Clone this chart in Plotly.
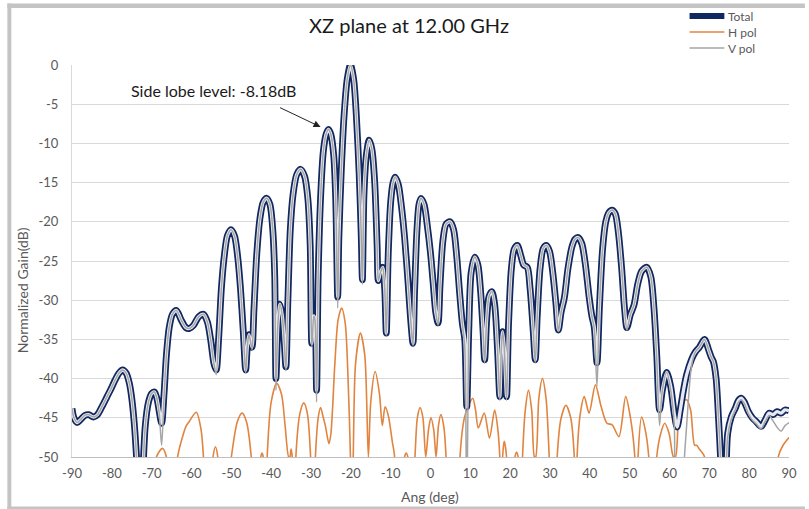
import plotly.graph_objects as go

# ---------------- data ----------------
ang = [-90.0, -89.5, -88.7, -87.8, -86.8, -85.8, -84.6, -83.6, -82.4, -81.2,
       -80.2, -79.2, -78.2, -77.3, -76.4, -75.6, -75.0, -74.4, -73.8, -73.0,
       -72.8, -72.2, -71.6, -70.8, -70.0, -69.3, -68.7, -68.1, -67.5, -66.9,
       -66.3, -65.6, -64.8, -63.8, -62.6, -61.4, -60.5, -59.5, -58.2, -57.0,
       -56.0, -55.2, -54.4, -53.8, -53.2, -52.5, -51.8, -51.0, -50.1, -49.2,
       -48.4, -47.7, -47.0, -46.4, -46.0, -45.6, -45.2, -44.8, -44.3, -43.6,
       -42.8, -42.0, -41.1, -40.3, -39.6, -39.1, -38.8, -38.3, -37.8, -37.2,
       -36.7, -36.3, -35.8, -35.2, -34.5, -33.6, -32.6, -31.6, -30.8, -30.2,
       -29.8, -29.3, -29.0, -28.6, -28.2, -27.6, -26.9, -26.2, -25.6, -25.0,
       -24.3, -23.8, -23.3, -23.0, -22.4, -21.7, -20.9, -20.1, -19.3, -18.6,
       -17.9, -17.4, -17.1, -16.7, -16.1, -15.4, -14.7, -14.0, -13.4, -13.1,
       -12.6, -12.0, -11.5, -11.1, -10.6, -10.0, -9.4, -8.9, -8.1, -7.3,
       -6.5, -5.6, -4.9, -4.4, -4.0, -3.4, -2.9, -2.4, -1.6, -0.8,
       0.0, 0.7, 1.3, 1.9, 2.4, 3.1, 3.9, 4.9, 5.8, 6.6,
       7.3, 8.0, 8.6, 9.1, 9.6, 10.2, 11.1, 11.9, 12.6, 13.2,
       13.6, 14.1, 14.7, 15.4, 16.1, 16.8, 17.4, 17.8, 18.1, 18.5,
       19.1, 19.6, 20.3, 21.0, 21.8, 22.6, 23.4, 24.3, 25.0, 25.8,
       26.3, 26.8, 27.5, 28.3, 29.1, 29.9, 30.7, 31.5, 32.1, 32.8,
       33.6, 34.5, 35.5, 36.3, 37.1, 38.0, 38.9, 39.8, 40.5, 41.1,
       41.8, 42.4, 43.2, 44.0, 44.8, 45.6, 46.4, 47.2, 48.0, 48.7,
       49.3, 50.2, 51.1, 52.0, 53.0, 54.3, 55.3, 56.1, 56.8, 57.5,
       58.2, 59.3, 60.3, 61.2, 61.9, 62.7, 63.5, 64.3, 65.5, 66.5,
       67.5, 68.8, 69.8, 70.5, 71.0, 71.7, 72.3, 72.8, 73.5, 74.2,
       74.6, 75.5, 76.5, 77.3, 78.0, 78.8, 79.8, 80.8, 81.8, 83.0,
       84.0, 85.0, 86.0, 87.0, 88.0, 89.0, 90.0]

total = [-43.8, -45.0, -45.6, -45.2, -44.7, -44.6, -44.9, -44.6, -43.5, -42.3,
         -41.3, -40.2, -39.3, -38.9, -39.3, -40.6, -42.5, -45.5, -50.0, -58.0,
         -60.0, -52.0, -46.0, -43.0, -41.9, -41.7, -42.5, -44.2, -45.7, -42.0,
         -37.0, -33.5, -31.8, -31.3, -32.5, -33.5, -33.6, -33.2, -32.1, -31.8,
         -32.8, -35.0, -38.0, -38.9, -35.0, -28.5, -24.5, -21.8, -21.0, -21.8,
         -24.5, -28.5, -34.0, -38.9, -36.0, -34.4, -35.2, -36.0, -31.0, -24.0,
         -19.5, -17.5, -17.0, -17.8, -21.0, -27.0, -40.0, -33.0, -30.5, -32.0,
         -35.5, -38.5, -30.0, -21.0, -16.5, -14.0, -13.3, -14.2, -17.0, -23.0,
         -35.5, -32.0, -32.5, -41.5, -27.0, -17.0, -11.0, -8.8, -8.2, -8.9,
         -11.5, -17.0, -29.6, -22.0, -13.5, -6.5, -1.8, 0.0, -1.8, -6.6,
         -14.0, -21.5, -27.4, -16.5, -11.5, -9.6, -10.8, -15.0, -23.0, -27.5,
         -26.5, -25.8, -28.5, -34.2, -24.0, -17.5, -15.0, -14.3, -15.2, -18.0,
         -22.0, -28.0, -33.0, -35.5, -29.0, -21.0, -17.8, -17.0, -17.8, -20.5,
         -24.0, -28.0, -31.5, -32.9, -28.0, -22.5, -20.3, -20.0, -21.0, -24.5,
         -29.0, -33.0, -35.0, -43.6, -34.0, -26.5, -24.5, -25.5, -29.0, -34.0,
         -37.6, -32.5, -29.5, -28.9, -30.5, -36.0, -42.3, -36.0, -34.0, -36.0,
         -42.3, -33.0, -26.0, -23.5, -23.0, -24.2, -25.5, -25.8, -28.5, -34.0,
         -37.6, -32.0, -26.0, -23.4, -23.0, -23.8, -26.5, -30.5, -33.8, -31.5,
         -29.7, -26.0, -23.2, -22.2, -22.0, -22.8, -25.5, -29.5, -32.0, -33.4,
         -38.0, -31.0, -23.5, -20.0, -18.8, -18.5, -19.0, -21.5, -26.0, -31.0,
         -33.5, -31.8, -30.6, -28.0, -26.3, -25.8, -27.0, -31.0, -37.0, -44.0,
         -41.5, -39.2, -41.0, -44.5, -46.2, -44.0, -41.5, -39.5, -37.6, -36.6,
         -36.0, -35.0, -36.3, -37.3, -37.8, -40.0, -45.0, -50.0, -60.0, -52.0,
         -47.0, -44.9, -43.8, -42.8, -42.5, -43.0, -44.2, -45.0, -45.5, -46.1,
         -45.3, -44.4, -44.6, -44.2, -44.4, -44.0, -44.1]

vpol = [-43.8, -45.0, -45.6, -45.2, -44.7, -44.6, -44.9, -44.6, -43.5, -42.3,
        -41.3, -40.2, -39.3, -38.9, -39.3, -40.6, -42.5, -45.5, -50.0, -58.0,
        -60.0, -52.0, -46.0, -43.0, -41.9, -41.7, -42.5, -44.5, -48.5, -42.5,
        -37.0, -33.5, -31.8, -31.3, -32.5, -33.5, -33.6, -33.2, -32.1, -31.8,
        -32.8, -35.0, -38.0, -39.5, -35.0, -28.5, -24.5, -21.8, -21.0, -21.8,
        -24.5, -28.5, -34.0, -39.3, -36.0, -34.4, -35.2, -36.3, -31.0, -24.0,
        -19.5, -17.5, -17.0, -17.8, -21.0, -27.0, -41.5, -33.0, -30.5, -32.0,
        -35.5, -39.0, -30.0, -21.0, -16.5, -14.0, -13.3, -14.2, -17.0, -23.0,
        -36.0, -32.0, -32.5, -43.0, -27.0, -17.0, -11.0, -8.8, -8.2, -8.9,
        -11.5, -17.0, -31.0, -22.0, -13.5, -6.5, -1.8, 0.0, -1.8, -6.6,
        -14.0, -21.5, -28.0, -16.5, -11.5, -9.6, -10.8, -15.0, -23.0, -27.5,
        -26.5, -25.8, -28.5, -34.5, -24.0, -17.5, -15.0, -14.3, -15.2, -18.0,
        -22.0, -28.0, -33.0, -35.8, -29.0, -21.0, -17.8, -17.0, -17.8, -20.5,
        -24.0, -28.0, -31.5, -33.2, -28.0, -22.5, -20.3, -20.0, -21.0, -24.5,
        -29.0, -33.0, -36.0, -60.0, -34.0, -26.5, -24.5, -25.5, -29.0, -34.0,
        -38.0, -32.5, -29.5, -28.9, -30.5, -36.0, -42.8, -36.0, -34.0, -36.0,
        -42.8, -33.0, -26.0, -23.5, -23.0, -24.2, -25.5, -25.8, -28.5, -34.0,
        -38.0, -32.0, -26.0, -23.4, -23.0, -23.8, -26.5, -30.5, -34.0, -31.5,
        -29.7, -26.0, -23.2, -22.2, -22.0, -22.8, -25.5, -29.5, -32.0, -33.6,
        -41.0, -31.0, -23.5, -20.0, -18.8, -18.5, -19.0, -21.5, -26.0, -31.0,
        -33.8, -31.8, -30.6, -28.0, -26.3, -25.8, -27.0, -31.0, -37.5, -46.0,
        -41.5, -39.2, -41.5, -46.0, -60.0, -60.0, -52.0, -46.0, -38.5, -36.6,
        -36.0, -35.0, -36.3, -37.3, -37.8, -40.0, -45.0, -50.0, -60.0, -52.0,
        -47.5, -45.2, -44.0, -43.0, -42.7, -43.2, -44.5, -45.3, -45.8, -46.4,
        -45.5, -44.7, -45.4, -46.2, -46.7, -46.0, -45.6]

ang_h = [-90.0, -70.0, -68.8, -67.3, -66.3, -65.0, -63.5, -62.0, -61.3, -60.6,
         -58.8, -57.6, -57.0, -56.0, -54.6, -54.0, -53.4, -52.5, -50.0, -48.5,
         -47.3, -46.2, -45.0, -44.0, -42.6, -42.3, -42.0, -41.5, -41.0, -40.0,
         -38.6, -37.4, -36.5, -35.6, -35.3, -35.0, -34.7, -34.2, -33.8, -32.8,
         -31.8, -30.9, -30.1, -29.5, -28.9, -28.2, -27.6, -26.9, -26.4, -25.5,
         -25.0, -24.0, -23.2, -22.3, -21.4, -20.7, -20.1, -19.8, -19.4, -18.8,
         -17.6, -16.5, -15.6, -15.0, -13.9, -12.8, -12.1, -11.4, -10.6, -9.6,
         -9.0, -8.5, -7.0, -6.5, -6.1, -5.7, -5.0, -3.9, -3.3, -2.6,
         -1.9, -1.2, -0.5, 0.1, 0.8, 1.4, 2.0, 2.6, 3.3, 3.9,
         4.3, 7.0, 7.4, 8.5, 9.5, 10.6, 11.3, 12.0, 13.5, 14.8,
         16.1, 16.8, 17.4, 17.8, 18.1, 18.5, 19.1, 19.5, 21.2, 21.6,
         22.0, 22.5, 23.1, 23.8, 24.6, 25.4, 26.1, 26.4, 27.2, 28.1,
         29.0, 29.8, 30.5, 31.4, 31.8, 32.8, 34.0, 35.2, 36.1, 36.5,
         36.8, 37.6, 38.6, 39.8, 41.4, 42.8, 44.3, 45.6, 47.3, 49.0,
         50.2, 51.3, 51.8, 52.1, 53.0, 53.9, 54.8, 55.5, 56.5, 56.8,
         57.8, 58.8, 59.9, 61.0, 61.5, 62.3, 63.3, 64.3, 65.3, 66.3,
         66.8, 67.5, 68.3, 68.8, 69.5, 86.5, 87.3, 88.5, 90.0]

hpol = [-60.0, -60.0, -50.0, -48.9, -50.0, -60.0, -50.0, -47.0, -46.0, -45.5,
        -44.3, -46.5, -50.0, -60.0, -50.0, -48.7, -50.0, -60.0, -50.0, -45.5,
        -44.4, -45.5, -50.0, -60.0, -50.0, -49.5, -50.0, -60.0, -50.0, -43.0,
        -40.6, -42.0, -46.0, -50.0, -50.0, -49.0, -50.0, -60.0, -50.0, -44.5,
        -43.1, -44.5, -50.0, -60.0, -50.0, -45.0, -43.7, -45.0, -46.0, -48.3,
        -47.0, -38.0, -32.5, -31.0, -33.0, -40.0, -50.0, -60.0, -50.0, -38.0,
        -34.2, -37.0, -50.0, -43.0, -39.1, -42.0, -46.0, -43.6, -44.7, -48.0,
        -50.0, -60.0, -60.0, -50.0, -49.5, -50.0, -60.0, -50.0, -45.0, -43.7,
        -45.0, -50.0, -46.5, -45.0, -46.5, -50.0, -46.0, -44.6, -46.0, -50.0,
        -60.0, -60.0, -50.0, -45.0, -43.5, -42.5, -44.0, -46.3, -44.4, -47.6,
        -44.0, -46.0, -50.0, -60.0, -50.0, -48.0, -50.0, -60.0, -50.0, -49.4,
        -50.0, -60.0, -50.0, -44.0, -41.5, -44.0, -50.0, -50.0, -42.5, -40.0,
        -42.5, -50.0, -60.0, -60.0, -50.0, -45.0, -43.4, -45.0, -50.0, -60.0,
        -50.0, -44.5, -42.3, -44.4, -40.8, -43.5, -45.7, -45.9, -47.4, -42.3,
        -45.0, -50.0, -60.0, -50.0, -44.9, -46.5, -50.0, -60.0, -60.0, -50.0,
        -47.0, -45.7, -47.0, -50.0, -50.0, -45.0, -43.0, -42.7, -44.0, -48.5,
        -48.5, -49.0, -49.5, -50.0, -60.0, -60.0, -50.0, -48.5, -47.5]

x_ticks = [-90, -80, -70, -60, -50, -40, -30, -20, -10, 0, 10, 20, 30, 40, 50, 60, 70, 80, 90]
y_ticks = [0, -5, -10, -15, -20, -25, -30, -35, -40, -45, -50]

series_names = ["Total", "H pol", "V pol"]
title_text = "XZ plane at 12.00 GHz"
note_text = "Side lobe level: -8.18dB"
x_title = "Ang (deg)"
y_title = "Normalized Gain(dB)"
side_lobe_ang, side_lobe_db = -27.6, -7.9

NAVY = "#10275f"
ORANGE = "#e0843f"
GRAY = "#a5a5a5"
FONT = "Lato, 'Open Sans', sans-serif"

fig = go.Figure()
fig.add_trace(go.Scatter(x=ang_h, y=hpol, mode="lines", name=series_names[1],
                         line=dict(color=ORANGE, width=1.6, shape="spline", smoothing=0.8)))
fig.add_trace(go.Scatter(x=ang, y=total, mode="lines", name=series_names[0],
                         line=dict(color=NAVY, width=6.8, shape="spline", smoothing=0.8)))
fig.add_trace(go.Scatter(x=ang, y=total, mode="lines", showlegend=False, hoverinfo="skip",
                         line=dict(color="#e8e9f0", width=3.3, shape="spline", smoothing=0.8)))
fig.add_trace(go.Scatter(x=ang, y=vpol, mode="lines", name=series_names[2],
                         line=dict(color=GRAY, width=1.5, shape="spline", smoothing=0.8)))

L, R, T, B = 72, 16, 65, 52
W, H = 809, 509
pw, ph = W - L - R, H - T - B


def px(x):
    return (x - L) / pw


def py(y):
    return (H - B - y) / ph


frame_col = "#c4c4c4"
shapes = [
    dict(type="rect", xref="paper", yref="paper", x0=px(7), x1=px(809), y0=py(8), y1=py(3.5),
         fillcolor=frame_col, line=dict(width=0), layer="below"),
    dict(type="rect", xref="paper", yref="paper", x0=px(7), x1=px(11), y0=py(509), y1=py(3.5),
         fillcolor=frame_col, line=dict(width=0), layer="below"),
    dict(type="rect", xref="paper", yref="paper", x0=px(7), x1=px(809), y0=py(509), y1=py(506.5),
         fillcolor=frame_col, line=dict(width=0), layer="below"),
]

# custom legend (line samples + labels)
legend_rows = [(series_names[0], NAVY, 6), (series_names[1], ORANGE, 1.5), (series_names[2], GRAY, 1.5)]
annotations = []
for i, (name, col, wd) in enumerate(legend_rows):
    yy = 16 + 16 * i
    shapes.append(dict(type="line", xref="paper", yref="paper", x0=px(693), x1=px(728),
                       y0=py(yy), y1=py(yy), line=dict(color=col, width=wd)))
    annotations.append(dict(x=px(730), y=py(yy), xref="paper", yref="paper", text=name,
                            showarrow=False, xanchor="left", yanchor="middle",
                            font=dict(family=FONT, size=12, color="#595959")))

annotations += [
    dict(x=-54.55, y=-3.2, xref="x", yref="y", text=note_text, showarrow=False,
         font=dict(family=FONT, size=16, color="#1a1a1a"), xanchor="center", yanchor="middle"),
    dict(x=side_lobe_ang, y=side_lobe_db, xref="x", yref="y", text="", showarrow=True,
         ax=-42, ay=-20, axref="pixel", ayref="pixel", arrowhead=2, arrowsize=1.4,
         arrowwidth=1, arrowcolor="#222222", standoff=0, startstandoff=0),
    dict(x=px(432), y=py(496), xref="paper", yref="paper", text=x_title, showarrow=False,
         xanchor="center", yanchor="middle", font=dict(family=FONT, size=14, color="#595959")),
    dict(x=px(22), y=py(290), xref="paper", yref="paper", text=y_title, showarrow=False,
         textangle=-90, xanchor="center", yanchor="middle",
         font=dict(family=FONT, size=14, color="#595959")),
]

fig.update_layout(
    width=W, height=H,
    margin=dict(l=L, r=R, t=T, b=B),
    paper_bgcolor="white", plot_bgcolor="white",
    font=dict(family=FONT, color="#595959", size=13),
    title=dict(text=title_text, x=409 / W, xanchor="center", y=1 - 26 / H, yanchor="middle",
               font=dict(family=FONT, size=20, color="#1a1a1a")),
    showlegend=False,
    shapes=shapes,
    annotations=annotations,
)

fig.update_xaxes(range=[-90, 90], tickvals=x_ticks, ticktext=[str(v) for v in x_ticks],
                 showgrid=False, zeroline=False, showline=True, linecolor="#bfbfbf", linewidth=1,
                 ticks="", ticklabelstandoff=4, tickfont=dict(size=13, color="#595959"))
fig.update_yaxes(range=[-50, 0], tickvals=y_ticks, ticktext=[str(v) for v in y_ticks],
                 showgrid=True, gridcolor="#d9d9d9", gridwidth=1, zeroline=False,
                 showline=True, linecolor="#d9d9d9", linewidth=1,
                 ticks="", ticklabelstandoff=10, tickfont=dict(size=13, color="#595959"))

fig.write_html("out.html")
